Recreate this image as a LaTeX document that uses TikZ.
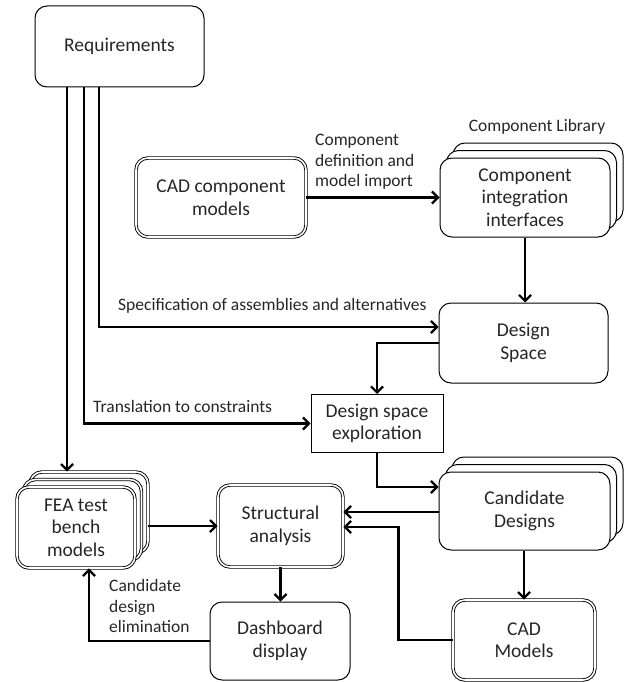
\documentclass[tikz,border=0pt]{standalone}
\usepackage{fontspec}
\setmainfont{Carlito}
\usetikzlibrary{arrows.meta,calc}

\tikzset{
  boxfont/.style={font=\fontsize{19.5}{22.5}\selectfont},
  labfont/.style={font=\fontsize{17.5}{20.5}\selectfont, text=black!85},
  box/.style={draw=black, line width=1pt, rounded corners=12pt, fill=white,
    align=center, boxfont, text=black!85, inner sep=0pt},
  dbox/.style={box, double=white, double distance=1.6pt, line width=0.9pt},
  plainbox/.style={draw=black, line width=1pt, fill=white, align=center,
    boxfont, text=black!85, inner sep=0pt},
  conn/.style={line width=2.7pt, draw=black,
    -{Straight Barb[length=6pt,width=12pt,line width=2.2pt]}},
  lbl/.style={labfont, align=left, inner sep=0pt}
}

\begin{document}
\begin{tikzpicture}[x=1pt,y=-1pt]
  \useasboundingbox (0,0) rectangle (630,682);

  % top-level requirements
  \node[box, minimum width=169pt, minimum height=81pt] (req) at (119.5,46.5) {Requirements};

  % imported CAD components
  \node[dbox, minimum width=170pt, minimum height=79pt] (cadcomp) at (221,197.5) {CAD component\\models};

  % component library (stack of three)
  \node[box, minimum width=170pt, minimum height=79pt] (cii2) at (538,182.5) {};
  \node[box, minimum width=170pt, minimum height=79pt] (cii1) at (531.5,190) {};
  \node[box, minimum width=170pt, minimum height=79pt] (cii) at (525,197.5) {Component\\integration\\interfaces};
  \node[labfont, inner sep=0pt] (libl) at (537,127) {Component Library};

  % design space
  \node[box, minimum width=169pt, minimum height=80pt] (ds) at (523.5,343) {Design\\Space};

  % exploration
  \node[plainbox, minimum width=132pt, minimum height=58pt] (dse) at (377,423.5) {Design space\\exploration};

  % candidate designs (stack of three)
  \node[box, minimum width=171pt, minimum height=78pt] (cand2) at (537.5,496) {};
  \node[box, minimum width=171pt, minimum height=78pt] (cand1) at (531,503.5) {};
  \node[box, minimum width=171pt, minimum height=78pt] (cand) at (524.5,511) {Candidate\\Designs};

  % FEA test benches (stack of three, double outline)
  \node[dbox, minimum width=118pt, minimum height=81pt] (fea2) at (89,512.5) {};
  \node[dbox, minimum width=118pt, minimum height=81pt] (fea1) at (82.5,520) {};
  \node[dbox, minimum width=118pt, minimum height=81pt] (fea) at (76,527.5) {FEA test\\bench\\models};

  % analysis and output
  \node[dbox, minimum width=125pt, minimum height=82pt] (sa) at (280.5,526) {Structural\\analysis};
  \node[box, minimum width=140pt, minimum height=78pt] (dash) at (280,641) {Dashboard\\display};
  \node[dbox, minimum width=142pt, minimum height=80pt] (cadm) at (524,640) {CAD\\Models};

  % requirement flows
  \draw[conn] ([xshift=-52.5pt]req.south) -- ([xshift=-52.5pt]req.south |- fea2.north);
  \draw[conn] ([xshift=-35.5pt]req.south) |- (dse.west);
  \draw[conn] ([xshift=-20.5pt]req.south) |- ([yshift=16pt]ds.west);

  % component import and design space
  \draw[conn] (cadcomp.east) -- (cii.west);
  \draw[conn] (cii.south) -- (cii.south |- ds.north);
  \draw[conn] (ds.west) -| (dse.north);
  \draw[conn] (dse.south) |- ([yshift=24pt]cand.west);

  % analysis loop
  \draw[conn] ([yshift=14pt]sa.east -| cand.west) -- ([yshift=14pt]sa.east);
  \draw[conn] (cadm.west) -| ([xshift=55pt,yshift=-1pt]sa.east) -- ([yshift=-1pt]sa.east);
  \draw[conn] (cand.south -| cadm.north) -- (cadm.north);
  \draw[conn] (sa.west -| fea2.east) -- (sa.west);
  \draw[conn] (sa.south) -- (sa.south |- dash.north);
  \draw[conn] (dash.west) -| ([xshift=13pt]fea.south);

  % connector labels
  \node[lbl, anchor=west] (l1) at (315,162) {Component\\definition and\\model import};
  \node[lbl, anchor=west] (l2) at (118,306) {Specification of assemblies and alternatives};
  \node[lbl, anchor=west] (l3) at (93,406) {Translation to constraints};
  \node[lbl, anchor=west] (l4) at (109,606) {Candidate\\design\\elimination};
\end{tikzpicture}
\end{document}
